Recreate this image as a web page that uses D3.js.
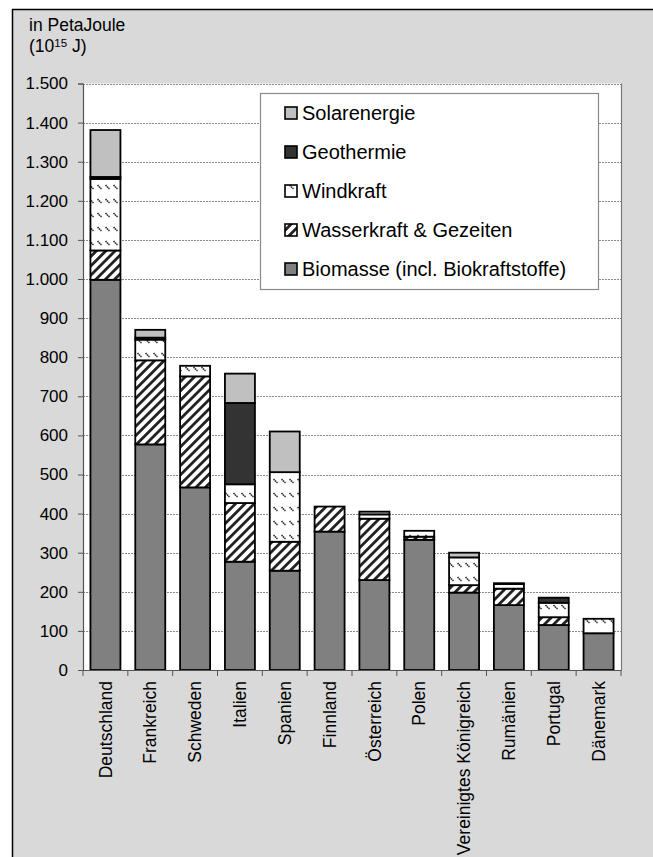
<!DOCTYPE html>
<html><head><meta charset="utf-8">
<script src="https://cdn.jsdelivr.net/npm/d3@7"></script>
<style>
html,body{margin:0;padding:0;background:#fff;}
svg{display:block;font-family:Arial,"Liberation Sans",sans-serif;}
</style></head>
<body><svg id="chart" width="653" height="857"></svg>
<script>
const countries = ["Deutschland","Frankreich","Schweden","Italien","Spanien","Finnland","Österreich","Polen","Vereinigtes Königreich","Rumänien","Portugal","Dänemark"];
const biomasse = [998, 577, 467, 277, 254, 354, 230, 333, 198, 166, 115, 94];
const wasserkraft = [75, 215, 284, 150, 74, 64, 157, 8, 19, 42, 20, 0];
const windkraft = [183, 53, 27, 48, 178, 0, 11, 15, 71, 12, 37, 37];
const geothermie = [5, 5, 0, 208, 0, 0, 0, 0, 0, 2, 13, 0];
const solarenergie = [120, 20, 0, 75, 104, 0, 7, 0, 12, 0, 0, 0];
const seriesNames = ["Biomasse (incl. Biokraftstoffe)","Wasserkraft & Gezeiten","Windkraft","Geothermie","Solarenergie"];
const yTicks = [0,100,200,300,400,500,600,700,800,900,1000,1100,1200,1300,1400,1500];

const svg = d3.select("#chart");
const defs = svg.append("defs");
// hydro pattern: "/" stripes
const ph = defs.append("pattern").attr("id","pHydro").attr("patternUnits","userSpaceOnUse")
  .attr("width",6.6).attr("height",6.6).attr("patternTransform","rotate(45)");
ph.append("rect").attr("width",6.6).attr("height",6.6).attr("fill","#fff");
ph.append("rect").attr("x",0).attr("width",2.8).attr("height",6.6).attr("fill","#222");
// wind pattern: short "\" dashes
const pw = defs.append("pattern").attr("id","pWind").attr("patternUnits","userSpaceOnUse")
  .attr("width",8).attr("height",14);
pw.append("rect").attr("width",8).attr("height",14).attr("fill","#fff");
pw.append("path").attr("d","M1.5,3 L5.5,7").attr("stroke","#333").attr("stroke-width",1.6).attr("stroke-dasharray","1.6,0.5");

const fills = ["#808080","url(#pHydro)","url(#pWind)","#333333","#c0c0c0"];

// background frame
svg.append("rect").attr("x",0).attr("y",0).attr("width",653).attr("height",857).attr("fill","#fff");
svg.append("rect").attr("x",12.5).attr("y",9.5).attr("width",700).attr("height",900)
  .attr("fill","#d9d9d9").attr("stroke","#000").attr("stroke-width",1.5);

const m = {left:83, right:621, top:83.5, bottom:670};
const x = d3.scaleBand().domain(countries).range([m.left,m.right]).paddingInner(0.331).paddingOuter(0.166);
const y = d3.scaleLinear().domain([0,1500]).range([m.bottom,m.top]);

svg.append("rect").attr("x",m.left).attr("y",m.top).attr("width",m.right-m.left).attr("height",m.bottom-m.top).attr("fill","#fff");

// gridlines
svg.append("g").selectAll("line").data(yTicks.filter(d=>d>0)).join("line")
  .attr("x1",m.left).attr("x2",m.right).attr("y1",d=>Math.round(y(d))+0.5).attr("y2",d=>Math.round(y(d))+0.5)
  .attr("stroke","#8a8a8a").attr("stroke-width",1).attr("stroke-dasharray","2,1");
// plot right border
svg.append("line").attr("x1",m.right+0.5).attr("x2",m.right+0.5).attr("y1",m.top).attr("y2",m.bottom).attr("stroke","#7a7a7a").attr("stroke-width",1.2);

// stacked data
const rows = countries.map((c,i)=>({country:c, s0:biomasse[i], s1:wasserkraft[i], s2:windkraft[i], s3:geothermie[i], s4:solarenergie[i]}));
const stack = d3.stack().keys(["s0","s1","s2","s3","s4"])(rows);
stack.forEach((layer,li)=>{
  svg.append("g").selectAll("rect").data(layer.filter(d=>d[1]-d[0]>0)).join("rect")
    .attr("x",d=>x(d.data.country)).attr("width",x.bandwidth())
    .attr("y",d=>y(d[1])).attr("height",d=>y(d[0])-y(d[1]))
    .attr("fill",fills[li]).attr("stroke","#000").attr("stroke-width",1.8);
});

// y axis
const fmt = d3.formatLocale({decimal:",",thousands:".",grouping:[3],currency:["","€"]}).format(",");
const ya = svg.append("g").attr("transform",`translate(${m.left},0)`)
  .call(d3.axisLeft(y).tickValues(yTicks).tickFormat(fmt).tickSize(5).tickPadding(10));
ya.select(".domain").attr("stroke","#555").attr("stroke-width",1.2);
ya.selectAll(".tick line").attr("stroke","#555");
ya.selectAll("text").attr("font-size",17).attr("fill","#000").attr("font-family","Arial,'Liberation Sans',sans-serif");

// x axis
const xa = svg.append("g").attr("transform",`translate(0,${m.bottom})`)
  .call(d3.axisBottom(x).tickSize(0).tickPadding(0));
xa.select(".domain").attr("stroke","#555").attr("stroke-width",1.2);
xa.selectAll("text").attr("font-size",17.5).attr("fill","#000").attr("font-family","Arial,'Liberation Sans',sans-serif")
  .attr("transform","rotate(-90)").attr("text-anchor","end").attr("x",-11).attr("y",0).attr("dy","0.35em");
// category boundary ticks
const bounds = countries.map(c=>x(c)-x.step()*x.paddingInner()/2);
bounds.push(m.right);
bounds[0] = m.left;
svg.append("g").selectAll("line").data(bounds).join("line")
  .attr("x1",d=>d).attr("x2",d=>d).attr("y1",m.bottom).attr("y2",m.bottom+6).attr("stroke","#555").attr("stroke-width",1);

// axis title
const t = svg.append("g").attr("font-size",17.5).attr("fill","#000");
t.append("text").attr("x",29).attr("y",31).text("in PetaJoule");
const t2 = t.append("text").attr("x",29).attr("y",52);
t2.append("tspan").text("(10");
t2.append("tspan").attr("font-size",11.5).attr("dy",-5).text("15");
t2.append("tspan").attr("dy",5).text(" J)");

// legend
const lg = svg.append("g");
lg.append("rect").attr("x",260.5).attr("y",93.5).attr("width",338).attr("height",196)
  .attr("fill","#fff").attr("stroke","#8a8a8a").attr("stroke-width",1.2);
const order = [4,3,2,1,0];
order.forEach((si,k)=>{
  const cy = 113 + k*39;
  lg.append("rect").attr("x",285).attr("y",cy-6).attr("width",12).attr("height",12)
    .attr("fill",fills[si]).attr("stroke","#000").attr("stroke-width",1.6);
  lg.append("text").attr("x",302).attr("y",cy).attr("dy","0.35em").attr("font-size",20).attr("fill","#000")
    .text(seriesNames[si]);
});
</script></body></html>
